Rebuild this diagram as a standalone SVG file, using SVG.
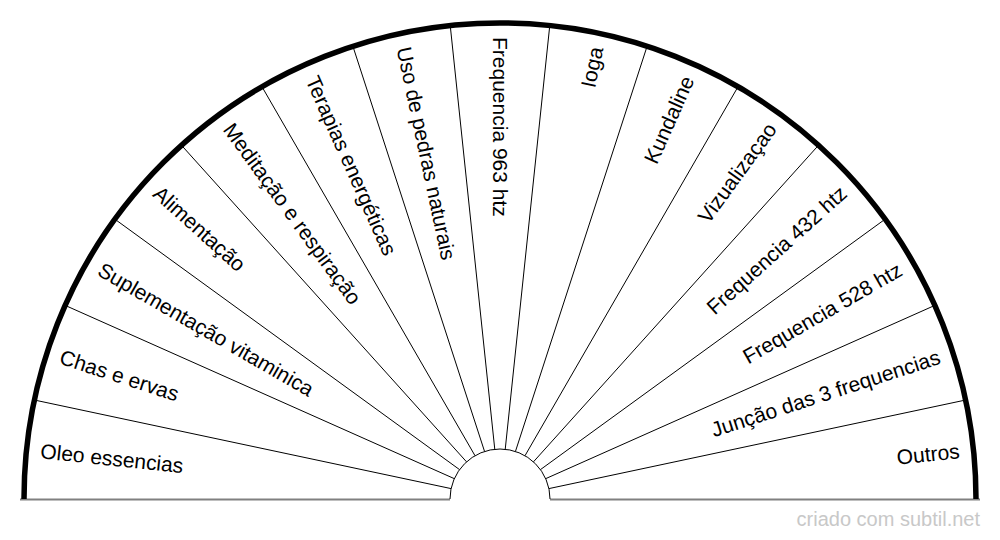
<svg xmlns="http://www.w3.org/2000/svg" width="1000" height="540" viewBox="0 0 1000 540">
<style>
.lbl{font-family:"Liberation Sans",Arial,sans-serif;font-size:21px;fill:#000;dominant-baseline:central}
.r{text-anchor:end}
.div{stroke:#000;stroke-width:1;fill:none}
.wm{font-family:"Liberation Sans",Arial,sans-serif;font-size:20px;fill:#c8c8c8;text-anchor:end}
</style>
<rect width="1000" height="540" fill="#fff"/>
<g id="frame">
<path d="M20 499.5 H450 M550 499.5 H980" stroke="#808080" stroke-width="2" fill="none"/>
<path d="M450 499 A50 50 0 0 1 550 499" class="div"/>
</g>
<g id="connectors" class="div">
<line x1="451.09" y1="488.60" x2="34.40" y2="400.03"/>
<line x1="454.32" y1="478.66" x2="65.15" y2="305.39"/>
<line x1="459.55" y1="469.61" x2="114.91" y2="219.21"/>
<line x1="466.54" y1="461.84" x2="181.49" y2="145.27"/>
<line x1="475" y1="455.70" x2="262" y2="86.77"/>
<line x1="484.55" y1="451.45" x2="352.91" y2="46.30"/>
<line x1="494.77" y1="449.27" x2="450.24" y2="25.61"/>
<line x1="505.23" y1="449.27" x2="549.76" y2="25.61"/>
<line x1="515.45" y1="451.45" x2="647.09" y2="46.30"/>
<line x1="525" y1="455.70" x2="738" y2="86.77"/>
<line x1="533.46" y1="461.84" x2="818.51" y2="145.27"/>
<line x1="540.45" y1="469.61" x2="885.09" y2="219.21"/>
<line x1="545.68" y1="478.66" x2="934.85" y2="305.39"/>
<line x1="548.91" y1="488.60" x2="965.60" y2="400.03"/>
</g>
<path id="outer" d="M24 499 A476 476 0 0 1 976 499" stroke="#000" stroke-width="5.5" fill="none"/>
<g id="n1"><text class="lbl" transform="translate(40.53,450.71) rotate(6)">Oleo essencias</text></g>
<g id="n2"><text class="lbl" transform="translate(60.61,356.23) rotate(18)">Chas e ervas</text></g>
<g id="n3"><text class="lbl" transform="translate(99.90,268) rotate(30)">Suplementação vitaminica</text></g>
<g id="n4"><text class="lbl" transform="translate(156.67,189.86) rotate(42)">Alimentação</text></g>
<g id="n5"><text class="lbl" transform="translate(228.44,125.23) rotate(54)">Meditação e respiração</text></g>
<g id="n6"><text class="lbl" transform="translate(312.09,76.94) rotate(66)">Terapias energéticas</text></g>
<g id="n7"><text class="lbl" transform="translate(403.95,47.09) rotate(78)">Uso de pedras naturais</text></g>
<g id="n8"><text class="lbl" transform="translate(500,37) rotate(90)">Frequencia 963 htz</text></g>
<g id="n9"><text class="lbl r" transform="translate(596.05,47.09) rotate(-78)">Ioga</text></g>
<g id="n10"><text class="lbl r" transform="translate(687.91,76.94) rotate(-66)">Kundaline</text></g>
<g id="n11"><text class="lbl r" transform="translate(771.56,125.23) rotate(-54)">Vizualizaçao</text></g>
<g id="n12"><text class="lbl r" transform="translate(843.33,189.86) rotate(-42)">Frequencia 432 htz</text></g>
<g id="n13"><text class="lbl r" transform="translate(900.10,268) rotate(-30)">Frequencia 528 htz</text></g>
<g id="n14"><text class="lbl r" transform="translate(939.39,356.23) rotate(-18)">Junção das 3 frequencias</text></g>
<g id="n15"><text class="lbl r" transform="translate(959.47,450.71) rotate(-6)">Outros</text></g>
<text class="wm" x="980" y="526">criado com subtil.net</text>
</svg>
